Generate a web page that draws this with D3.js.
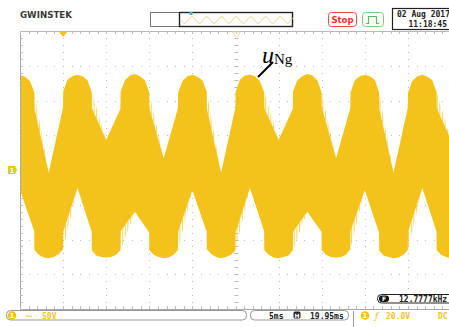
<!DOCTYPE html>
<html>
<head>
<meta charset="utf-8">
<script src="https://cdn.jsdelivr.net/npm/d3@7"></script>
<style>
  html, body { margin: 0; padding: 0; background: #fff; }
  svg { display: block; }
</style>
</head>
<body>
<script>
// Upper edge of the switched u_Ng trace: time (ms from left graticule edge) and level (V)
const upperT = [-5.01, -4.99, -3.34,
  -1.68, -1.66, -1.16, -0.58, 0, 0.58, 1.16, 1.66, 1.68, 3.33,
  4.99, 5.01, 5.51, 6.09, 6.67, 7.25, 7.83, 8.33, 8.35, 10.0,
  11.65, 11.67, 12.17, 12.75, 13.33, 13.91, 14.49, 14.99, 15.01, 16.67,
  18.32, 18.34, 18.84, 19.42, 20, 20.58, 21.16, 21.66, 21.68, 23.33,
  24.99, 25.01, 25.51, 26.09, 26.67, 27.25, 27.83, 28.33, 28.35, 30.0,
  31.65, 31.67, 32.17, 32.75, 33.33, 33.91, 34.49, 34.99, 35.01, 36.67,
  38.32, 38.34, 38.84, 39.42, 40, 40.58, 41.16, 41.66, 41.68, 43.33,
  44.99, 45.01, 45.51, 46.09, 46.67, 47.25, 47.83, 48.33, 48.35, 50.0,
  51.65, 51.67];
const upperV = [112, 89, 17,
  89, 112, 129, 135, 137, 134, 128, 112, 88, -4,
  90, 113, 130, 135, 137, 135, 129, 111, 89, 43,
  88, 112, 129, 136, 138, 135, 129, 112, 89, 17,
  89, 111, 128, 135, 137, 134, 129, 113, 88, -4,
  90, 112, 130, 136, 137, 135, 128, 112, 89, 43,
  88, 113, 129, 135, 138, 136, 129, 111, 90, 17,
  89, 112, 129, 135, 137, 135, 130, 112, 88, -4,
  90, 111, 128, 135, 137, 134, 129, 112, 89, 43,
  89, 112];
// Lower edge of the switched u_Ng trace
const lowerT = [-5.02, -5.0, -4.5, -3.92, -3.34, -2.76, -2.18, -1.68, -1.66, 0,
  1.65, 1.67, 2.17, 2.75, 3.33, 3.91, 4.49, 4.99, 5.01, 6.67,
  8.32, 8.34, 8.84, 9.42, 10.0, 10.58, 11.16, 11.66, 11.68, 13.33,
  14.98, 15.0, 15.5, 16.08, 16.66, 17.24, 17.82, 18.32, 18.34, 20.0,
  21.65, 21.67, 22.17, 22.75, 23.33, 23.91, 24.49, 24.99, 25.01, 26.67,
  28.32, 28.34, 28.84, 29.42, 30.0, 30.58, 31.16, 31.66, 31.68, 33.33,
  34.98, 35.0, 35.5, 36.08, 36.66, 37.24, 37.82, 38.32, 38.34, 40.0,
  41.65, 41.67, 42.17, 42.75, 43.33, 43.91, 44.49, 44.99, 45.01, 46.67,
  48.32, 48.34, 48.84, 49.42, 50.0, 50.58, 51.16, 51.66, 51.68, 53.33];
const lowerV = [-89, -115, -122, -125, -127, -125, -122, -115, -89, -29,
  -88, -115, -122, -126, -127, -125, -121, -114, -89, -26,
  -89, -116, -123, -125, -126, -125, -122, -115, -88, -60,
  -90, -115, -122, -125, -127, -126, -122, -115, -89, -29,
  -89, -114, -121, -125, -127, -125, -122, -116, -90, -26,
  -88, -115, -122, -126, -127, -125, -123, -115, -89, -60,
  -89, -115, -122, -125, -126, -125, -122, -114, -88, -29,
  -90, -116, -123, -125, -127, -126, -122, -115, -89, -26,
  -89, -115, -122, -125, -127, -125, -122, -115, -89, -60];

const W = 449, H = 327;
const gx0 = 20, gy0 = 31, divW = 43.1, divH = 34.75;
const nDivX = 10, nDivY = 8;
const yellow = "#F3C31C";

const svg = d3.select("body").append("svg").attr("width", W).attr("height", H);
const defs = svg.append("defs");

const x = d3.scaleLinear().domain([0, 50]).range([gx0, gx0 + nDivX * divW]);
const y = d3.scaleLinear().domain([-200, 200]).range([gy0 + nDivY * divH, gy0]);

// ---- header ----
svg.append("text").attr("x", 20).attr("y", 18)
  .attr("font-family", "DejaVu Sans").attr("font-weight", "bold").attr("font-size", 9)
  .attr("textLength", 52).attr("lengthAdjust", "spacingAndGlyphs")
  .attr("fill", "#3a3a3a").text("GWINSTEK");

svg.append("rect").attr("x", 150.5).attr("y", 12.5).attr("width", 142).attr("height", 14)
  .attr("fill", "#fff").attr("stroke", "#777");
svg.append("rect").attr("x", 179.5).attr("y", 12.5).attr("width", 113).attr("height", 14)
  .attr("fill", "#fff").attr("stroke", "#222").attr("stroke-width", 1.4);
{
  // memory-bar thumbnail wave
  let p = "";
  for (let i = 0; i <= 226; i++) {
    const px = 181 + i * 0.5;
    const py = 20 + 3.2 * Math.sin((i * 0.5) / 14.7 * 2 * Math.PI);
    p += (i ? "L" : "M") + px.toFixed(1) + "," + py.toFixed(1);
  }
  svg.append("path").attr("d", p).attr("fill", "none").attr("stroke", "#EDD27A").attr("stroke-width", 1);
}
svg.append("rect").attr("x", 189.5).attr("y", 12).attr("width", 3).attr("height", 3).attr("fill", "#46B6C6");

svg.append("rect").attr("x", 328.5).attr("y", 12.5).attr("width", 28).attr("height", 14).attr("rx", 3)
  .attr("fill", "#fff").attr("stroke", "#F04848");
svg.append("text").attr("x", 342.5).attr("y", 23).attr("text-anchor", "middle")
  .attr("font-family", "DejaVu Sans").attr("font-weight", "bold").attr("font-size", 8.5)
  .attr("fill", "#E83030").text("Stop");

svg.append("rect").attr("x", 362.5).attr("y", 12.5).attr("width", 21).attr("height", 14).attr("rx", 3)
  .attr("fill", "#fff").attr("stroke", "#7CCB7C");
svg.append("path").attr("d", "M366,23.5H368.5V16.5H376.5V23.5H379")
  .attr("fill", "none").attr("stroke", "#5DBB5D").attr("stroke-width", 1.2);

svg.append("rect").attr("x", 392.5).attr("y", 8.5).attr("width", 60).attr("height", 21)
  .attr("fill", "#fff").attr("stroke", "#222").attr("stroke-width", 1.2);
svg.append("text").attr("x", 397).attr("y", 17)
  .attr("font-family", "DejaVu Sans Mono").attr("font-weight", "bold").attr("font-size", 8)
  .attr("fill", "#222").text("02 Aug 2017");
svg.append("text").attr("x", 447).attr("y", 26.5).attr("text-anchor", "end")
  .attr("font-family", "DejaVu Sans Mono").attr("font-weight", "bold").attr("font-size", 8)
  .attr("fill", "#222").text("11:18:45");

// ---- graticule ----
const grid = svg.append("g");
const gx1 = gx0 + nDivX * divW, gy1 = gy0 + nDivY * divH;
const gridCol = "#bdbdbd";
grid.append("line").attr("x1", gx0 + 0.5).attr("x2", gx0 + 0.5).attr("y1", gy0).attr("y2", gy1)
  .attr("stroke", "#a8a8a8");
grid.append("line").attr("x1", gx0).attr("x2", W).attr("y1", gy0 + 0.5).attr("y2", gy0 + 0.5)
  .attr("stroke", "#b8b8b8");
grid.append("line").attr("x1", gx0).attr("x2", W).attr("y1", gy1 + 0.5).attr("y2", gy1 + 0.5)
  .attr("stroke", "#a8a8a8");
for (let i = 0; i <= nDivX * 5; i++) {
  const px = Math.round(gx0 + i * divW / 5) + 0.5;
  grid.append("line").attr("x1", px).attr("x2", px).attr("y1", gy0).attr("y2", gy0 + 3).attr("stroke", gridCol);
  grid.append("line").attr("x1", px).attr("x2", px).attr("y1", gy1 - 3).attr("y2", gy1).attr("stroke", gridCol);
}
for (let j = 0; j <= nDivY * 5; j++) {
  const py = Math.round(gy0 + j * divH / 5) + 0.5;
  grid.append("line").attr("x1", gx0).attr("x2", gx0 + 3).attr("y1", py).attr("y2", py).attr("stroke", gridCol);
}
for (let i = 1; i < nDivX; i++) {
  const px = Math.round(gx0 + i * divW);
  for (let j = 1; j < nDivY * 5; j++) {
    const py = Math.round(gy0 + j * divH / 5);
    grid.append("rect").attr("x", px).attr("y", py).attr("width", 1).attr("height", 1).attr("fill", gridCol);
  }
}
for (let j = 1; j < nDivY; j++) {
  const py = Math.round(gy0 + j * divH);
  for (let i = 1; i < nDivX * 5; i++) {
    const px = Math.round(gx0 + i * divW / 5);
    grid.append("rect").attr("x", px).attr("y", py).attr("width", 1).attr("height", 1).attr("fill", gridCol);
  }
}
const cx = Math.round(gx0 + 5 * divW) + 0.5, cy = Math.round(gy0 + 4 * divH) + 0.5;
for (let i = 1; i < nDivX * 5; i++) {
  const px = Math.round(gx0 + i * divW / 5) + 0.5;
  grid.append("line").attr("x1", px).attr("x2", px).attr("y1", cy - 2).attr("y2", cy + 2).attr("stroke", gridCol);
}
for (let j = 1; j < nDivY * 5; j++) {
  const py = Math.round(gy0 + j * divH / 5) + 0.5;
  grid.append("line").attr("x1", cx - 2).attr("x2", cx + 2).attr("y1", py).attr("y2", py).attr("stroke", gridCol);
}

// ---- waveform ----
defs.append("clipPath").attr("id", "plotClip").append("rect")
  .attr("x", gx0 + 1).attr("y", gy0 + 1).attr("width", W - gx0).attr("height", gy1 - gy0 - 1);
// sparse narrow pulses show up as individual hairlines
const pat = defs.append("pattern").attr("id", "pulses").attr("patternUnits", "userSpaceOnUse")
  .attr("width", 2.6).attr("height", 10);
pat.append("rect").attr("x", 0).attr("y", 0).attr("width", 1).attr("height", 10)
  .attr("fill", yellow).attr("opacity", 0.75);

const wave = svg.append("g").attr("clip-path", "url(#plotClip)");
const upperPts = upperT.map((t, i) => [x(t), y(upperV[i])]);
const lowerPts = lowerT.map((t, i) => [x(t), y(lowerV[i])]);

// hatched wedges where the edge steps back toward zero
function wedges(T, V) {
  const out = [];
  for (let i = 1; i < T.length - 1; i++) {
    if (T[i] - T[i - 1] < 0.05 && Math.abs(V[i]) < Math.abs(V[i - 1])) {
      out.push([[x(T[i - 1]), y(V[i - 1])], [x(T[i]), y(V[i])], [x(T[i + 1]), y(V[i + 1])]]);
    }
  }
  return out;
}
const line = d3.line();
wave.selectAll("path.wedge")
  .data(wedges(upperT, upperV).concat(wedges(lowerT, lowerV)))
  .join("path").attr("class", "wedge")
  .attr("d", d => line(d) + "Z").attr("fill", "url(#pulses)");

wave.append("path")
  .attr("d", line(upperPts.concat(lowerPts.slice().reverse())) + "Z")
  .attr("fill", yellow);

// trigger position markers
svg.append("path").attr("d", `M${x(5) - 4},${gy0 + 1}L${x(5) + 4},${gy0 + 1}L${x(5)},${gy0 + 6}Z`).attr("fill", yellow);
svg.append("path").attr("d", `M${cx - 4},${gy0 + 1}L${cx + 4},${gy0 + 1}L${cx},${gy0 + 6}Z`)
  .attr("fill", "none").attr("stroke", "#E8D9A0").attr("stroke-width", 0.8);

// channel 1 ground marker
svg.append("path").attr("d", `M8,${y(0) - 4}H15L17,${y(0)}L15,${y(0) + 4}H8Z`).attr("fill", yellow);
svg.append("text").attr("x", 12).attr("y", y(0) + 3).attr("text-anchor", "middle")
  .attr("font-family", "DejaVu Sans").attr("font-weight", "bold").attr("font-size", 7)
  .attr("fill", "#fff").text("1");

// trace label
svg.append("line").attr("x1", 258).attr("y1", 77).attr("x2", 273).attr("y2", 62)
  .attr("stroke", "#000").attr("stroke-width", 2);
const lab = svg.append("text").attr("x", 262).attr("y", 63)
  .attr("font-family", "Liberation Serif").attr("fill", "#000");
lab.append("tspan").attr("font-style", "italic").attr("font-size", 24).text("u");
lab.append("tspan").attr("font-size", 15).attr("dy", 1).text("Ng");

// ---- footer ----
const mono = "DejaVu Sans Mono";
svg.append("rect").attr("x", 6.5).attr("y", 310.5).attr("width", 240).attr("height", 9.5).attr("rx", 4)
  .attr("fill", "#fff").attr("stroke", "#999");
svg.append("circle").attr("cx", 12).attr("cy", 315.5).attr("r", 4.3).attr("fill", yellow);
svg.append("text").attr("x", 12).attr("y", 318.3).attr("text-anchor", "middle")
  .attr("font-family", "DejaVu Sans").attr("font-weight", "bold").attr("font-size", 7).attr("fill", "#fff").text("1");
svg.append("text").attr("x", 25).attr("y", 319).attr("font-family", "DejaVu Sans").attr("font-size", 10)
  .attr("fill", yellow).text("∼");
svg.append("text").attr("x", 42).attr("y", 318.5).attr("font-family", mono).attr("font-weight", "bold")
  .attr("font-size", 8).attr("fill", yellow).text("50V");

svg.append("rect").attr("x", 250.5).attr("y", 310.5).attr("width", 98).attr("height", 9.5).attr("rx", 4)
  .attr("fill", "#fff").attr("stroke", "#999");
svg.append("text").attr("x", 269).attr("y", 318.5).attr("font-family", mono).attr("font-weight", "bold")
  .attr("font-size", 8).attr("fill", "#222").text("5ms");
svg.append("rect").attr("x", 293.5).attr("y", 311.5).attr("width", 7).attr("height", 7).attr("rx", 1.5).attr("fill", "#222");
svg.append("text").attr("x", 297).attr("y", 317.6).attr("text-anchor", "middle").attr("font-family", "DejaVu Sans")
  .attr("font-weight", "bold").attr("font-size", 6).attr("fill", "#fff").text("H");
svg.append("text").attr("x", 310).attr("y", 318.5).attr("font-family", mono).attr("font-weight", "bold")
  .attr("font-size", 8).attr("fill", "#222").text("19.95ms");

svg.append("line").attr("x1", 353.5).attr("x2", 353.5).attr("y1", 311).attr("y2", 327).attr("stroke", "#999");
svg.append("circle").attr("cx", 365).attr("cy", 315.5).attr("r", 4.3).attr("fill", yellow);
svg.append("text").attr("x", 365).attr("y", 318.3).attr("text-anchor", "middle")
  .attr("font-family", "DejaVu Sans").attr("font-weight", "bold").attr("font-size", 7).attr("fill", "#fff").text("1");
svg.append("text").attr("x", 375).attr("y", 319).attr("font-family", "DejaVu Serif").attr("font-style", "italic")
  .attr("font-size", 9).attr("fill", yellow).text("ƒ");
svg.append("text").attr("x", 386).attr("y", 318.5).attr("font-family", mono).attr("font-weight", "bold")
  .attr("font-size", 8).attr("fill", yellow).text("20.0V");
svg.append("text").attr("x", 438).attr("y", 318.5).attr("font-family", mono).attr("font-weight", "bold")
  .attr("font-size", 8).attr("fill", yellow).text("DC");

svg.append("rect").attr("x", 377.5).attr("y", 294.5).attr("width", 80).attr("height", 8.5).attr("rx", 4)
  .attr("fill", "#fff").attr("stroke", "#222");
svg.append("rect").attr("x", 379).attr("y", 295.5).attr("width", 10).attr("height", 6.5).attr("rx", 3).attr("fill", "#111");
svg.append("text").attr("x", 384).attr("y", 301.3).attr("text-anchor", "middle").attr("font-family", "DejaVu Sans")
  .attr("font-weight", "bold").attr("font-size", 6).attr("fill", "#fff").text("F");
svg.append("text").attr("x", 399).attr("y", 301.8).attr("font-family", mono).attr("font-weight", "bold")
  .attr("font-size", 8).attr("fill", "#222").text("12.7777kHz");
</script>
</body>
</html>
